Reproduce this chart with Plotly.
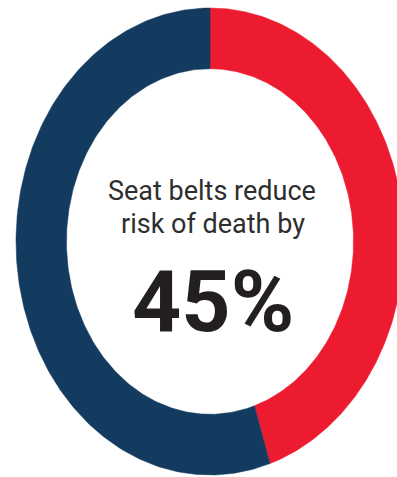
import numpy as np
import plotly.graph_objects as go

# ---- data ----
labels = ["Risk reduced", "Remaining"]
values = [45, 55]
colors = ["#ED1B2F", "#123B5F"]
headline = ["Seat belts reduce", "risk of death by"]
big_label = "45%"

W, H = 397, 477
hole = 0.74

fig = go.Figure()
total = float(sum(values))
start = 0.0
for lab, v, c in zip(labels, values, colors):
    f0, f1 = start / total, (start + v) / total
    t = np.linspace(f0, f1, 240) * 2 * np.pi
    xo, yo = np.sin(t), np.cos(t)
    xi, yi = hole * np.sin(t[::-1]), hole * np.cos(t[::-1])
    xs = np.concatenate([xo, xi, xo[:1]])
    ys = np.concatenate([yo, yi, yo[:1]])
    fig.add_trace(go.Scatter(x=xs, y=ys, mode="lines", fill="toself",
                             fillcolor=c, line=dict(color=c, width=0.5),
                             name=lab, hoverinfo="name"))
    start += v

# axis ranges so the ring is an ellipse (stretched vertically)
cx_px, rx_px = 210, 194
cy_px, ry_px = 241.5, 233.5
x0 = -cx_px / rx_px
x1 = (W - cx_px) / rx_px
y0 = -(H - cy_px) / ry_px
y1 = cy_px / ry_px

fig.update_xaxes(range=[x0, x1], visible=False, fixedrange=True)
fig.update_yaxes(range=[y0, y1], visible=False, fixedrange=True)

font_narrow = "Roboto, Arial, sans-serif"
fig.add_annotation(text=headline[0], xref="paper", yref="paper",
                   x=212 / W, y=1 - 191.5 / H, xanchor="center", yanchor="middle",
                   showarrow=False, font=dict(family=font_narrow, size=27, color="#2e2e2e"))
fig.add_annotation(text=headline[1], xref="paper", yref="paper",
                   x=212.5 / W, y=1 - 223.5 / H, xanchor="center", yanchor="middle",
                   showarrow=False, font=dict(family=font_narrow, size=27, color="#2e2e2e"))
fig.add_annotation(text="<b>" + big_label + "</b>", xref="paper", yref="paper",
                   x=213.5 / W, y=1 - 301 / H, xanchor="center", yanchor="middle",
                   showarrow=False, font=dict(family=font_narrow, size=86, color="#231F20"))

fig.update_layout(width=W, height=H, margin=dict(l=0, r=0, t=0, b=0),
                  paper_bgcolor="white", plot_bgcolor="white", showlegend=False)

fig.write_html("out.html", config={"displayModeBar": False})
